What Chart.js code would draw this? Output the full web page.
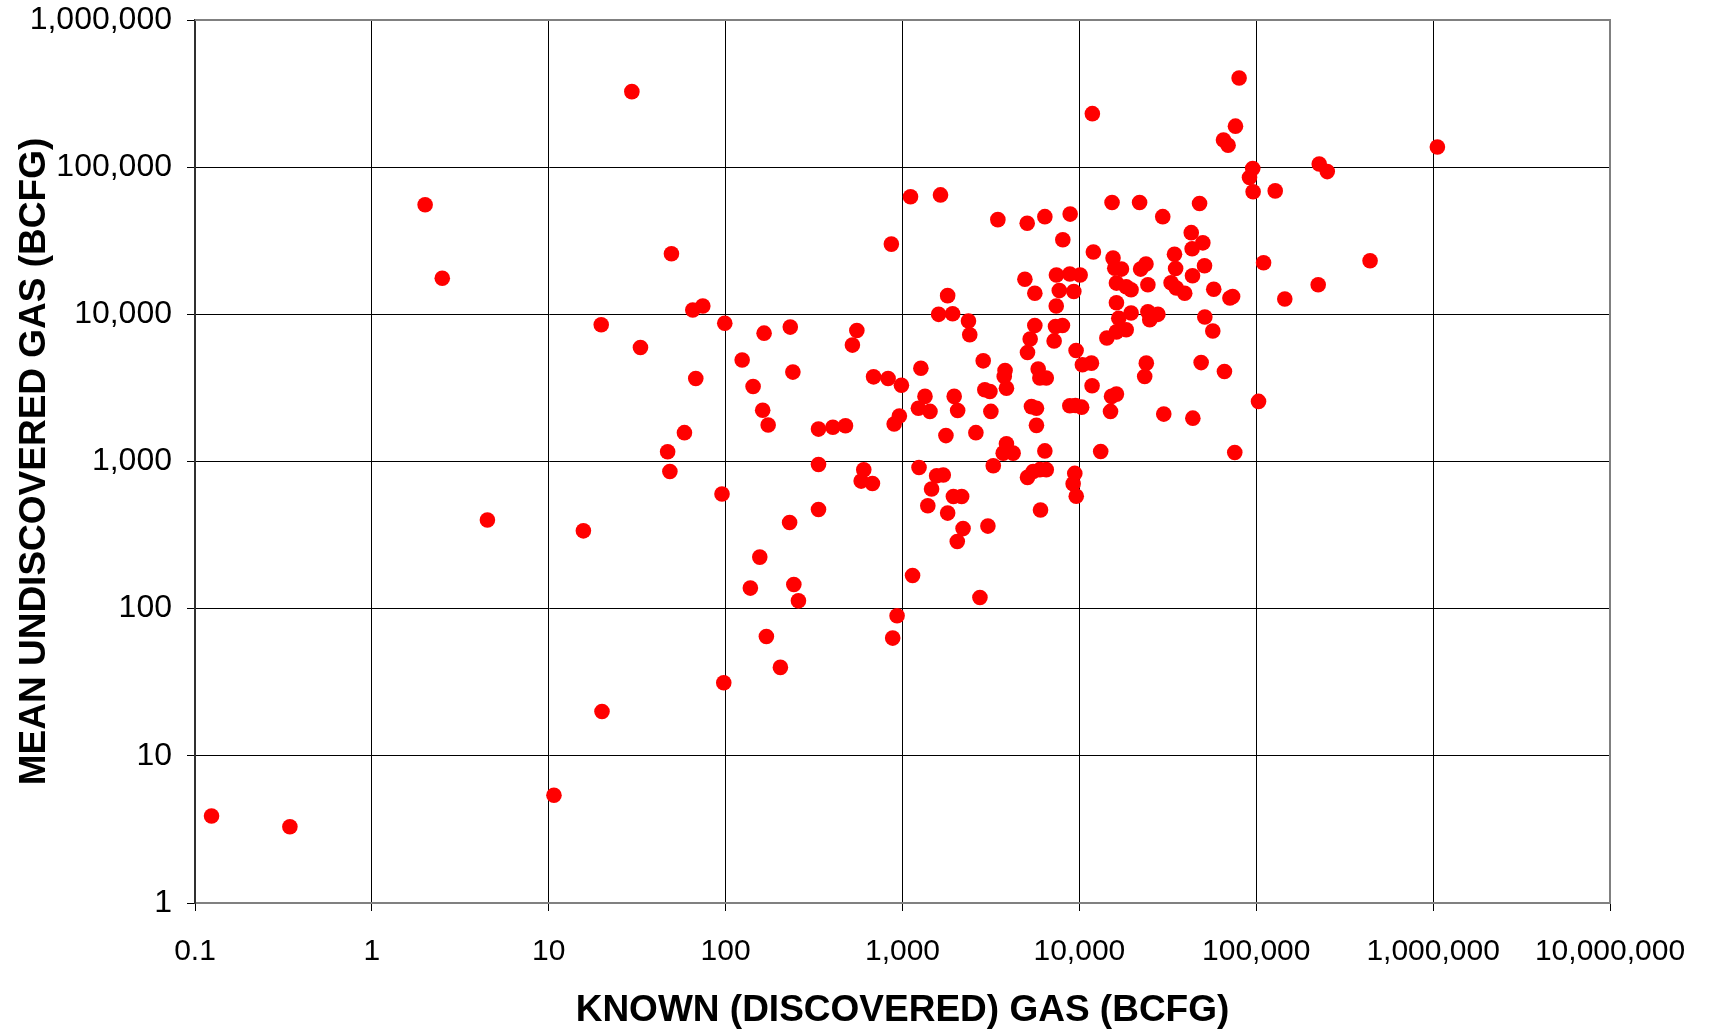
<!DOCTYPE html>
<html>
<head>
<meta charset="utf-8">
<script src="https://cdn.jsdelivr.net/npm/chart.js@4/dist/chart.umd.min.js"></script>
<style>
  html, body { margin: 0; padding: 0; background: #ffffff; }
  #wrap { width: 1714px; height: 1031px; }
</style>
</head>
<body>
<div id="wrap"><canvas id="chart" width="1714" height="1031"></canvas></div>
<script>
// Known (discovered) gas per assessment unit, BCFG
const knownGas = [
  0.124, 0.344, 2.0, 2.5, 4.5, 10.7, 15.7, 20, 19.8, 29.5,
  33, 47, 48.4, 49.4, 58.5, 65.2, 74.3, 67.8, 95.4, 97.6, 98.9,
  124, 143, 162, 165, 174, 232, 240, 335, 404, 476,
  521, 552, 686, 829, 986, 960, 897, 335, 604, 584,
  676, 335, 230, 156, 138, 243, 258, 170, 204, 880,
  932, 1140, 865, 1110,
  1640, 11840, 15300, 21900, 29600, 47800, 3460, 5070, 6380, 8870,
  8060, 12000, 15500, 34500, 42900, 43400, 4920, 7420, 8830, 10100,
  15850, 17300, 22200, 23800, 35000, 43600, 33000,
  80000, 76300, 65300, 69300, 95500, 91600, 96000, 128000, 227000, 252000,
  1057000, 49900, 51000, 110000, 440000, 224000,
  57500, 71000, 73500, 145000, 51200, 56800, 48800, 66100, 103000, 43800, 75600,
  5600, 7700, 9300, 7400, 1800, 1600, 1920, 2360, 2400, 5600,
  5270, 5090, 7330, 8020, 7200, 9580, 16200, 19600, 24400, 39400,
  16200, 18400, 35300, 16700, 19600, 18400, 16200, 14300, 24400, 27800,
  25000, 23900, 23400, 30000, 15200, 16200, 15000, 11800, 10400, 11700,
  8830, 9500, 10300, 5850, 5980, 6500, 3800, 3760, 3870, 2860,
  1270, 2920, 3120, 1340, 1430, 1230, 1960, 2050, 3160, 5360,
  5720, 5720, 1760, 2600, 3870, 3710, 4220, 6380, 13200, 1240,
  3260, 1560, 1700, 1460, 5090, 5480, 5980, 6500, 9420, 9220, 9600,
  1390, 1940, 2160, 1800, 2200, 2040, 3040, 6030, 2740
];

// Mean undiscovered gas for the same units, BCFG
const undiscoveredGas = [
  3.9, 3.3, 55500, 17600, 400, 5.4, 338, 20, 8500, 326000,
  5950, 1165, 855, 25800, 1570, 10700, 11400, 3660, 601, 31.4, 8700,
  4890, 3230, 2230, 7450, 1770, 8190, 4050, 1660, 1710, 1750,
  6180, 7760, 3760, 3660, 3300, 2040, 1800, 955, 878, 736,
  709, 472, 385, 224, 138, 146, 113, 64.7, 39.9, 63.1,
  89.5, 168, 30000, 62900,
  64800, 231000, 57500, 57500, 46100, 56600, 44000, 41600, 46100, 48000,
  32100, 26500, 24100, 25600, 35900, 27900, 17300, 18500, 18800, 18500,
  20600, 20300, 20300, 22000, 20500, 18300, 16400,
  404000, 190000, 153000, 141000, 97800, 85000, 68000, 69000, 105000, 93300,
  137000, 30600, 21400, 22400, 23100, 15900,
  14800, 12900, 13200, 12700, 9600, 7700, 4700, 4090, 2560, 1970, 1150,
  13900, 14500, 14300, 11400, 13400, 10000, 10100, 9000, 7260, 8400,
  6800, 5500, 8260, 8400, 6600, 5680, 12000, 14700, 15900, 13900,
  16300, 15400, 15100, 9400, 10200, 7850, 7600, 6900, 10400, 10000,
  9200, 4660, 3780, 2100, 2770, 2870, 2190, 3270, 4540, 4660,
  2390, 2400, 2340, 4250, 3690, 3690, 4150, 3780, 3150, 4830,
  4300, 3070, 2990, 2770, 2190, 2300, 2770, 2220, 2190, 2360,
  2300, 1760, 1500, 1570, 1320, 1140, 1140, 1180, 1170, 910,
  935, 800, 810, 650, 780, 855, 880, 880, 830, 705, 580,
  500, 578, 578, 446, 350, 286, 364, 468, 119
];

// Decade ticks and their printed labels
const xTickValues = [0.1, 1, 10, 100, 1000, 10000, 100000, 1000000, 10000000];
const xTickLabels = ['0.1', '1', '10', '100', '1,000', '10,000', '100,000', '1,000,000', '10,000,000'];
const yTickValues = [1, 10, 100, 1000, 10000, 100000, 1000000];
const yTickLabels = ['1', '10', '100', '1,000', '10,000', '100,000', '1,000,000'];

const xTitle = 'KNOWN (DISCOVERED) GAS (BCFG)';
const yTitle = 'MEAN UNDISCOVERED GAS (BCFG)';

const points = knownGas.map((k, i) => ({ x: k, y: undiscoveredGas[i] }));

const FONT = "'Liberation Sans', Arial, sans-serif";

// Gray frame on the top and right of the plot area
const framePlugin = {
  id: 'frame',
  beforeDatasetsDraw(chart) {
    const { ctx, chartArea: a } = chart;
    ctx.save();
    ctx.strokeStyle = '#808080';
    ctx.lineWidth = 2;
    ctx.beginPath();
    ctx.moveTo(a.left, a.top);
    ctx.lineTo(a.right, a.top);
    ctx.lineTo(a.right, a.bottom);
    ctx.stroke();
    ctx.restore();
  }
};

new Chart(document.getElementById('chart'), {
  type: 'scatter',
  data: {
    datasets: [{
      data: points,
      backgroundColor: '#ff0000',
      borderColor: '#ff0000',
      borderWidth: 0,
      pointRadius: 7.8,
      pointHoverRadius: 7.8
    }]
  },
  options: {
    responsive: false,
    animation: false,
    devicePixelRatio: 1,
    layout: { padding: { left: 0, right: 104, top: 20, bottom: 0 } },
    plugins: { legend: { display: false }, tooltip: { enabled: false } },
    scales: {
      x: {
        type: 'logarithmic',
        min: 0.1,
        max: 10000000,
        afterBuildTicks(scale) { scale.ticks = xTickValues.map(v => ({ value: v })); },
        afterFit(scale) {
          scale.height = 128;
          scale.paddingLeft = 0;
          scale.paddingRight = 0;
        },
        ticks: {
          autoSkip: false,
          maxRotation: 0,
          padding: 23,
          color: '#000000',
          font: { family: FONT, size: 30 },
          callback: (v, i) => xTickLabels[i]
        },
        grid: { color: '#000000', lineWidth: 1, tickLength: 8, tickColor: '#000000' },
        border: { display: true, color: '#808080', width: 2 },
        title: {
          display: true,
          text: xTitle,
          color: '#000000',
          font: { family: FONT, size: 37, weight: 'bold', lineHeight: 1.1 },
          padding: { top: 0, bottom: 0 }
        }
      },
      y: {
        type: 'logarithmic',
        min: 1,
        max: 1000000,
        afterBuildTicks(scale) { scale.ticks = yTickValues.map(v => ({ value: v })); },
        afterFit(scale) {
          scale.width = 195;
          scale.paddingTop = 0;
          scale.paddingBottom = 0;
        },
        ticks: {
          autoSkip: false,
          padding: 15,
          color: '#000000',
          font: { family: FONT, size: 32 },
          callback: (v, i) => yTickLabels[i]
        },
        grid: { color: '#000000', lineWidth: 1, tickLength: 8, tickColor: '#000000' },
        border: { display: true, color: '#303030', width: 2 },
        title: {
          display: true,
          text: yTitle,
          color: '#000000',
          font: { family: FONT, size: 37, weight: 'bold' },
          padding: { top: 13, bottom: 0 }
        }
      }
    }
  },
  plugins: [framePlugin]
});
</script>
</body>
</html>
